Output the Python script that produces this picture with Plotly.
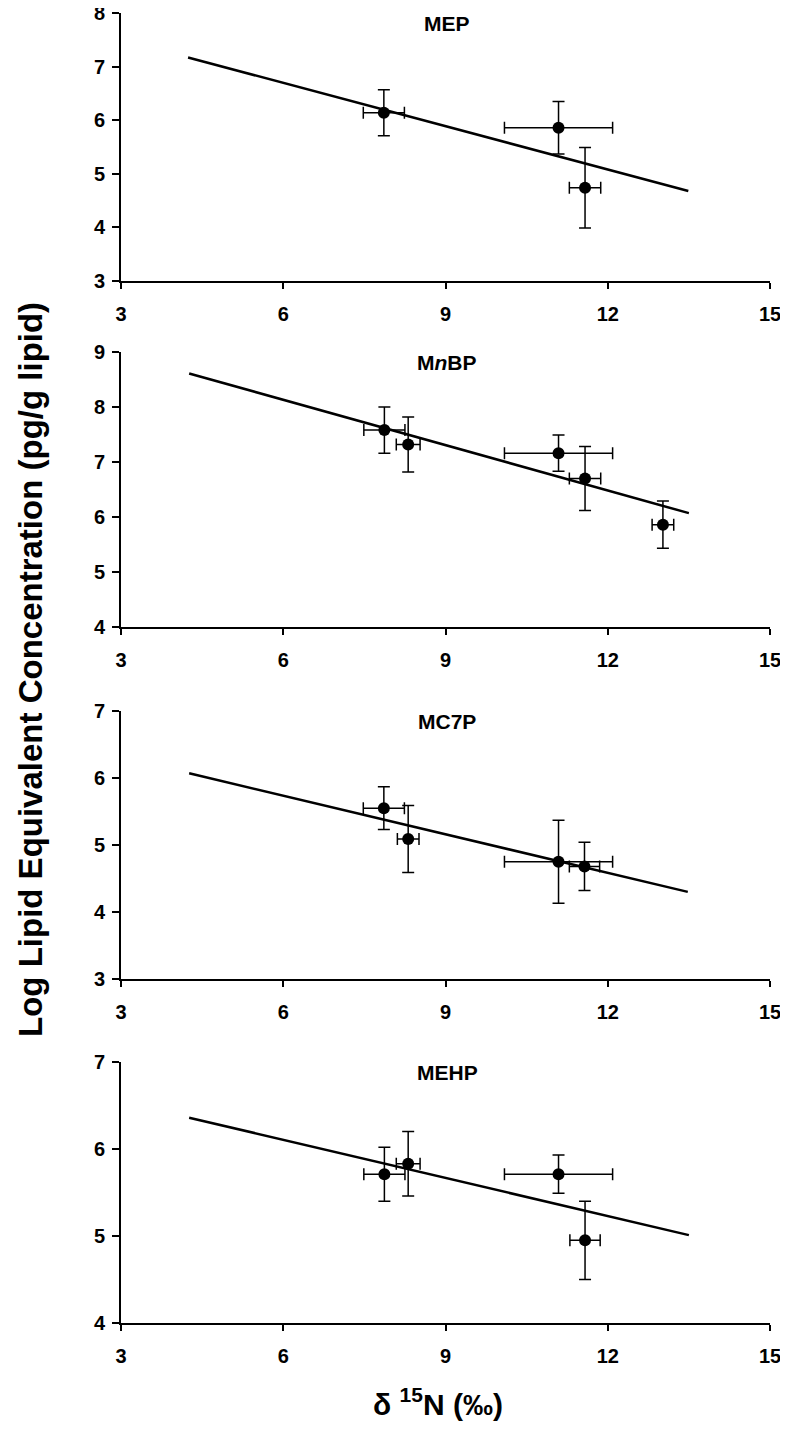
import plotly.graph_objects as go

# d15N and log lipid equivalent concentration
mep_x = [7.86, 11.09, 11.58]
mep_y = [6.14, 5.86, 4.74]
mep_xerr = [0.38, 1.0, 0.29]
mep_yerr = [0.43, 0.49, 0.75]
mep_line_x = [4.24, 13.49]
mep_line_y = [7.17, 4.68]

mnbp_x = [7.87, 8.31, 11.09, 11.58, 13.02]
mnbp_y = [7.58, 7.32, 7.16, 6.70, 5.86]
mnbp_xerr = [0.38, 0.22, 1.0, 0.29, 0.2]
mnbp_yerr = [0.42, 0.5, 0.33, 0.58, 0.43]
mnbp_line_x = [4.26, 13.50]
mnbp_line_y = [8.61, 6.07]

mc7p_x = [7.86, 8.31, 11.09, 11.57]
mc7p_y = [5.55, 5.09, 4.75, 4.68]
mc7p_xerr = [0.38, 0.2, 1.0, 0.28]
mc7p_yerr = [0.32, 0.5, 0.62, 0.36]
mc7p_line_x = [4.26, 13.48]
mc7p_line_y = [6.07, 4.30]

mehp_x = [7.87, 8.31, 11.09, 11.58]
mehp_y = [5.71, 5.83, 5.71, 4.95]
mehp_xerr = [0.38, 0.22, 1.0, 0.28]
mehp_yerr = [0.31, 0.37, 0.22, 0.45]
mehp_line_x = [4.26, 13.50]
mehp_line_y = [6.36, 5.01]

x_ticks = [3, 6, 9, 12, 15]

# page body has an 8px margin, so the figure is a bit smaller than the window
OFF = 8
W, H = 780, 1416


def px_x(p):
    return (p - OFF) / W


def px_y(p):
    return 1 - (p - OFF) / H


# name, data, y range, plot area top/bottom in window px
panels = [
    ("MEP", mep_x, mep_y, mep_xerr, mep_yerr, mep_line_x, mep_line_y, [3, 8], 13, 281),
    ("M<i>n</i>BP", mnbp_x, mnbp_y, mnbp_xerr, mnbp_yerr, mnbp_line_x, mnbp_line_y, [4, 9], 352, 627),
    ("MC7P", mc7p_x, mc7p_y, mc7p_xerr, mc7p_yerr, mc7p_line_x, mc7p_line_y, [3, 7], 711, 979),
    ("MEHP", mehp_x, mehp_y, mehp_xerr, mehp_yerr, mehp_line_x, mehp_line_y, [4, 7], 1062, 1323),
]

font = "Liberation Sans, Arial, sans-serif"
fig = go.Figure()
layout = {}
annotations = []

for i, (name, x, y, xe, ye, lx, ly, yr, top, bot) in enumerate(panels, start=1):
    xa = "x" if i == 1 else f"x{i}"
    ya = "y" if i == 1 else f"y{i}"
    fig.add_trace(go.Scatter(x=lx, y=ly, mode="lines", xaxis=xa, yaxis=ya,
                             line=dict(color="black", width=2.5), showlegend=False))
    fig.add_trace(go.Scatter(
        x=x, y=y, mode="markers", xaxis=xa, yaxis=ya, showlegend=False,
        marker=dict(color="black", size=12),
        error_x=dict(type="data", array=xe, color="black", thickness=1.5, width=6),
        error_y=dict(type="data", array=ye, color="black", thickness=1.5, width=6),
    ))
    axis_common = dict(showline=True, linecolor="black", linewidth=2, showgrid=False,
                       zeroline=False, ticks="outside", tickcolor="black", tickwidth=1.5,
                       automargin=False, ticklabeloverflow="allow",
                       tickfont=dict(family=font, size=20, color="black", weight="bold"))
    layout["xaxis" if i == 1 else f"xaxis{i}"] = dict(
        axis_common, domain=[px_x(121), px_x(770)], range=[3, 15], tickvals=x_ticks,
        ticklen=6, ticklabelstandoff=8, anchor=ya)
    layout["yaxis" if i == 1 else f"yaxis{i}"] = dict(
        axis_common, domain=[px_y(bot), px_y(top)], range=yr, dtick=1, ticklen=7,
        ticklabelstandoff=3, anchor=xa)
    annotations.append(dict(
        text=f"<b>{name}</b>", x=px_x(447), y=px_y(top + 10.5), xref="paper", yref="paper",
        xanchor="center", yanchor="middle", showarrow=False,
        font=dict(family=font, size=21, color="black")))

annotations.append(dict(
    text="<b>Log Lipid Equivalent Concentration (pg/g lipid)</b>", textangle=-90,
    x=px_x(31), y=px_y(670), xref="paper", yref="paper", xanchor="center", yanchor="middle",
    showarrow=False, font=dict(family=font, size=33, color="black")))
annotations.append(dict(
    text="<b>δ <sup>15</sup>N (‰)</b>", x=px_x(438), y=px_y(1402), xref="paper", yref="paper",
    xanchor="center", yanchor="middle",
    showarrow=False, font=dict(family=font, size=30, color="black")))

fig.update_layout(template="none", width=W, height=H, margin=dict(l=0, r=0, t=0, b=0),
                  plot_bgcolor="white", paper_bgcolor="white",
                  annotations=annotations, **layout)

fig.write_html("out.html")
